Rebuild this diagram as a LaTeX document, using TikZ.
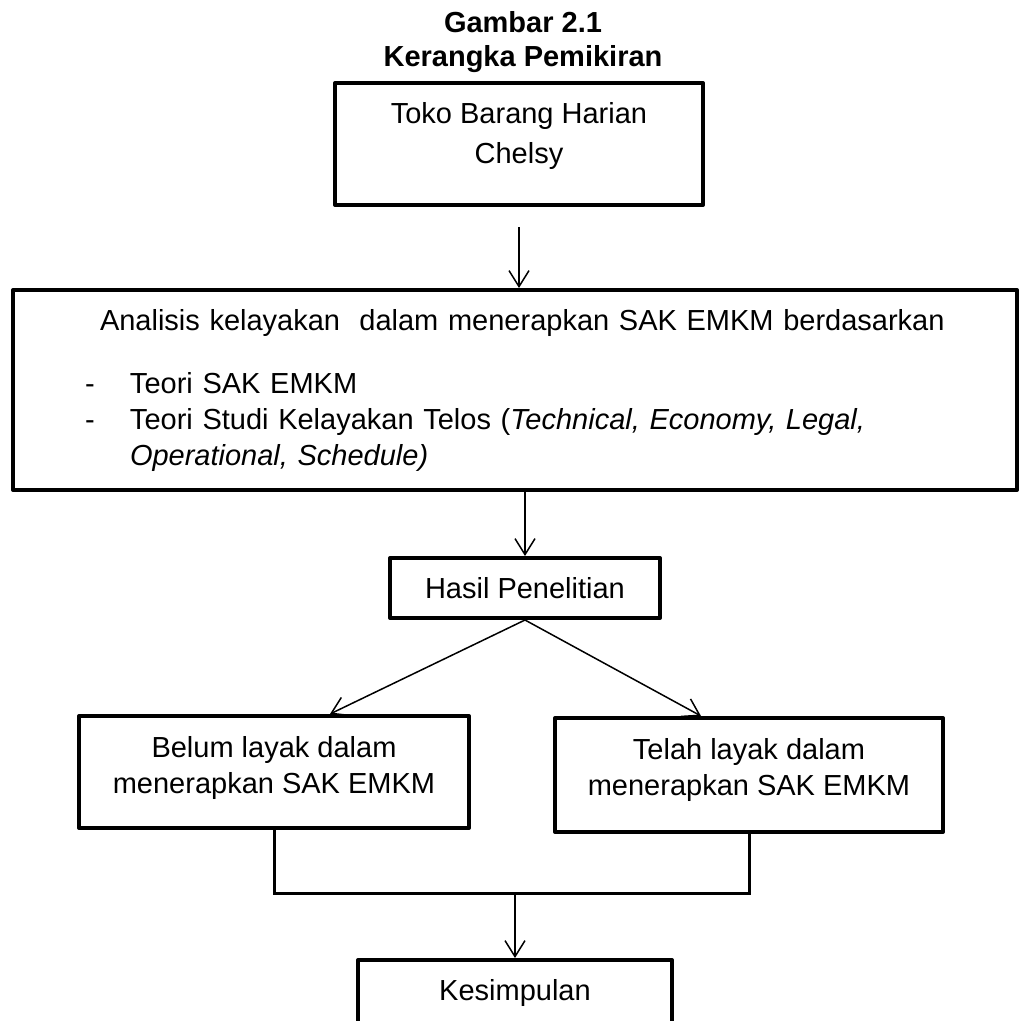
\documentclass[tikz,border=0pt]{standalone}
\usepackage{fontspec}
\setmainfont{Liberation Sans}
\usetikzlibrary{arrows.meta}

\begin{document}
\begin{tikzpicture}[x=1pt, y=-1pt, >={Straight Barb[length=16pt,width=20pt]},
	kotak/.style={draw, line width=4pt, line join=round, inner sep=0pt, align=center, font=\fontsize{29}{36}\selectfont},
	panah/.style={->, line width=1.5pt}]
	\useasboundingbox (0,0) rectangle (1019,1021);
	\clip (0,0) rectangle (1019,1021);
	% judul
	\node[font=\bfseries\fontsize{29}{34}\selectfont, align=center, inner sep=0pt] (judul) at (523,42.5) {Gambar 2.1\\Kerangka Pemikiran};
	% kotak
	\node[kotak, minimum width=368pt, minimum height=122pt, font=\fontsize{29}{40}\selectfont] (toko) at (519,144) {Toko Barang Harian\\Chelsy\rule[-23pt]{0pt}{0pt}};
	\node[kotak, minimum width=1004pt, minimum height=200pt, text width=860pt, align=left] (analisis) at (515,390) {%
		\hspace*{15pt}Analisis kelayakan\ \ dalam menerapkan SAK EMKM berdasarkan\\[27pt]
		\makebox[45pt][l]{-}Teori SAK EMKM\\
		\makebox[45pt][l]{-}Teori Studi Kelayakan Telos (\textit{Technical, Economy, Legal,}\\
		\hspace*{45pt}\textit{Operational, Schedule)}};
	\node[kotak, minimum width=270pt, minimum height=60pt] (hasil) at (525,588) {Hasil Penelitian};
	\node[kotak, minimum width=390pt, minimum height=112pt] (belum) at (274,772) {Belum layak dalam\\menerapkan SAK EMKM\rule[-15pt]{0pt}{0pt}};
	\node[kotak, minimum width=388pt, minimum height=114pt] (telah) at (749,775) {Telah layak dalam\\menerapkan SAK EMKM\rule[-17pt]{0pt}{0pt}};
	\node[kotak, minimum width=314pt, minimum height=100pt, anchor=north] (kesimpulan) at (515,958) {Kesimpulan\rule[-41pt]{0pt}{0pt}};
	% panah
	\draw[panah, shorten <=20pt] (toko.south) -- (toko.south |- analisis.north);
	\draw[panah] (hasil.north |- analisis.south) -- (hasil.north);
	\draw[panah] (hasil.south) -- ([xshift=56pt]belum.north);
	\draw[panah] (hasil.south) -- ([xshift=-48pt]telah.north);
	\coordinate (gabung) at (515,893);
	\draw[line width=3pt] (belum.south) |- (gabung) -| (telah.south);
	\draw[panah] (gabung) -- (kesimpulan.north);
\end{tikzpicture}
\end{document}
